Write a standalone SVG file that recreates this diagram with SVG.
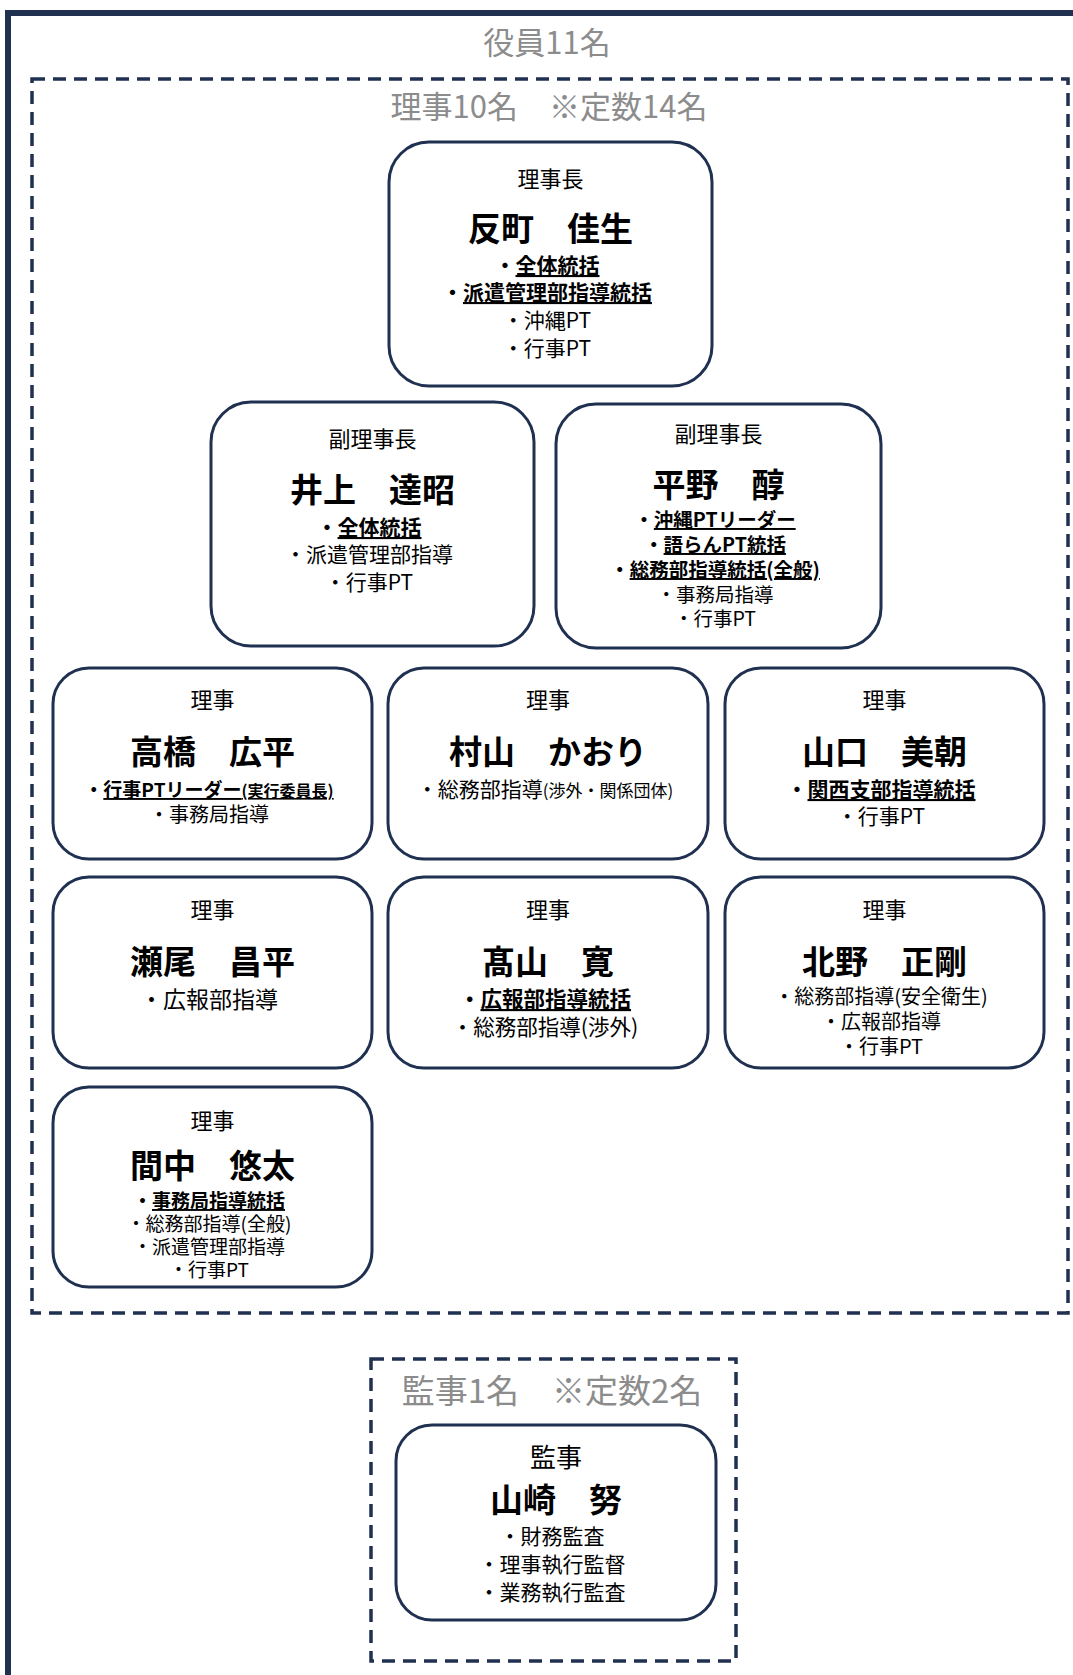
<svg xmlns="http://www.w3.org/2000/svg" width="1073" height="1675" viewBox="0 0 1073 1675">
<style>
text{font-family:"Noto Sans CJK JP","Noto Sans CJK SC",sans-serif;text-anchor:middle;fill:#000}
.hd{fill:#8c8c8c;font-size:31px}
.role{font-size:22px}
.nm{font-size:33px;font-weight:bold}
.b{font-weight:bold}
.u{text-decoration:underline}
.box{fill:#fff;stroke:#1f3050;stroke-width:3}
.dash{fill:none;stroke:#1f3050;stroke-width:3.5;stroke-dasharray:13 8}
</style>
<rect width="1073" height="1675" fill="#fff"/>
<rect x="8" y="13" width="1120" height="1720" fill="none" stroke="#1f3050" stroke-width="6"/>
<g id="frames">
<text class="hd" x="547" y="54">役員11名</text>
<rect class="dash" x="32" y="79" width="1036" height="1234"/>
<text class="hd" x="549" y="118">理事10名　※定数14名</text>
<rect class="dash" x="371" y="1359" width="365" height="302"/>
<text class="hd" x="552" y="1403" style="font-size:33px">監事1名　※定数2名</text>
</g>
<g id="connectors"></g>
<g id="n-chair">
<rect class="box" x="389" y="142" width="323" height="244" rx="40"/>
<text class="role" x="550.5" y="187">理事長</text>
<text class="nm" x="550.5" y="241">反町　佳生</text>
<text class="b" x="547" y="273" font-size="21">・<tspan class="u">全体統括</tspan></text>
<text class="b" x="547" y="300" font-size="21">・<tspan class="u">派遣管理部指導統括</tspan></text>
<text x="547" y="328" font-size="21">・沖縄PT</text>
<text x="547" y="356" font-size="21">・行事PT</text>
</g>
<g id="n-vice1">
<rect class="box" x="211" y="402" width="323" height="244" rx="40"/>
<text class="role" x="372.5" y="447">副理事長</text>
<text class="nm" x="372.5" y="502">井上　達昭</text>
<text class="b" x="369" y="535" font-size="21">・<tspan class="u">全体統括</tspan></text>
<text x="369" y="562" font-size="21">・派遣管理部指導</text>
<text x="369" y="590" font-size="21">・行事PT</text>
</g>
<g id="n-vice2">
<rect class="box" x="556" y="404" width="325" height="244" rx="40"/>
<text class="role" x="718.5" y="442">副理事長</text>
<text class="nm" x="718.5" y="497">平野　醇</text>
<text class="b" x="715" y="527" font-size="19.5">・<tspan class="u">沖縄PTリーダー</tspan></text>
<text class="b" x="715" y="552" font-size="19.5">・<tspan class="u">語らんPT統括</tspan></text>
<text class="b" x="715" y="577" font-size="19.5">・<tspan class="u">総務部指導統括(全般)</tspan></text>
<text x="715" y="602" font-size="19.5">・事務局指導</text>
<text x="715" y="626" font-size="19.5">・行事PT</text>
</g>
<g id="n-takahashi">
<rect class="box" x="53" y="668" width="319" height="191" rx="36"/>
<text class="role" x="212.5" y="708">理事</text>
<text class="nm" x="212.5" y="764">高橋　広平</text>
<text class="b" x="209" y="797" font-size="19">・<tspan class="u">行事PTリーダー<tspan font-size="16">(実行委員長)</tspan></tspan></text>
<text x="209" y="822" font-size="20">・事務局指導</text>
</g>
<g id="n-murayama">
<rect class="box" x="388" y="668" width="320" height="191" rx="36"/>
<text class="role" x="548" y="708">理事</text>
<text class="nm" x="548" y="764">村山　かおり</text>
<text x="545" y="797" font-size="21">・総務部指導<tspan font-size="17">(渉外・関係団体)</tspan></text>
</g>
<g id="n-yamaguchi">
<rect class="box" x="725" y="668" width="319" height="191" rx="36"/>
<text class="role" x="884.5" y="708">理事</text>
<text class="nm" x="884.5" y="764">山口　美朝</text>
<text class="b" x="881" y="797" font-size="21">・<tspan class="u">関西支部指導統括</tspan></text>
<text x="881" y="824" font-size="21">・行事PT</text>
</g>
<g id="n-seo">
<rect class="box" x="53" y="877" width="319" height="191" rx="36"/>
<text class="role" x="212.5" y="918">理事</text>
<text class="nm" x="212.5" y="974">瀬尾　昌平</text>
<text x="209" y="1008" font-size="23">・広報部指導</text>
</g>
<g id="n-takayama">
<rect class="box" x="388" y="877" width="320" height="191" rx="36"/>
<text class="role" x="548" y="918">理事</text>
<text class="nm" x="548" y="974">髙山　寛</text>
<text class="b" x="545" y="1007" font-size="21.5">・<tspan class="u">広報部指導統括</tspan></text>
<text x="545" y="1035" font-size="21.5">・総務部指導(渉外)</text>
</g>
<g id="n-kitano">
<rect class="box" x="725" y="877" width="319" height="191" rx="36"/>
<text class="role" x="884.5" y="918">理事</text>
<text class="nm" x="884.5" y="974">北野　正剛</text>
<text x="881" y="1004" font-size="20">・総務部指導(安全衛生)</text>
<text x="881" y="1029" font-size="20">・広報部指導</text>
<text x="881" y="1054" font-size="20">・行事PT</text>
</g>
<g id="n-manaka">
<rect class="box" x="53" y="1087" width="319" height="200" rx="36"/>
<text class="role" x="212.5" y="1129">理事</text>
<text class="nm" x="212.5" y="1178">間中　悠太</text>
<text class="b" x="209" y="1208" font-size="19">・<tspan class="u">事務局指導統括</tspan></text>
<text x="209" y="1231" font-size="19">・総務部指導(全般)</text>
<text x="209" y="1254" font-size="19">・派遣管理部指導</text>
<text x="209" y="1277" font-size="19">・行事PT</text>
</g>
<g id="n-auditor">
<rect class="box" x="396" y="1425" width="320" height="195" rx="36"/>
<text x="556" y="1467" font-size="26">監事</text>
<text class="nm" x="556" y="1512">山崎　努</text>
<text x="552" y="1544" font-size="21">・財務監査</text>
<text x="552" y="1572" font-size="21">・理事執行監督</text>
<text x="552" y="1600" font-size="21">・業務執行監査</text>
</g>
</svg>
